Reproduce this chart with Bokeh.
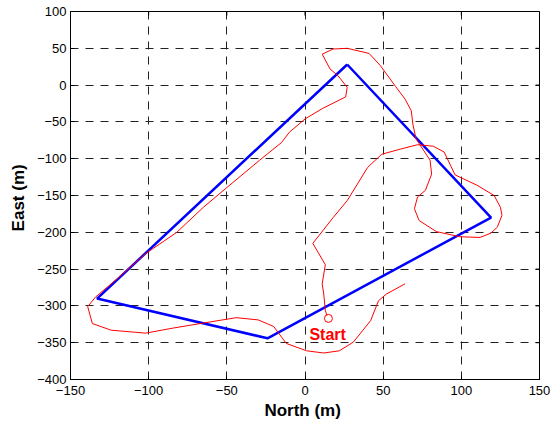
import math
from bokeh.plotting import figure
from bokeh.models import Range1d, FixedTicker, Label
from bokeh.embed import file_html
from bokeh.resources import INLINE

# Planned route (blue polygon)
poly_north = [27, 119, -24, -133, 27]
poly_east = [28, -180, -344, -290, 28]

# Actual trajectory (red)
path_north = [14, 13, 12, 11, 13, 5, 18, 27, 40, 49, 61, 72, 82, 89, 96, 110, 121,
              125, 126, 123, 119, 112, 99, 84, 73, 70, 72, 77, 81, 80, 71, 69, 68,
              64, 58, 48, 41, 27, 18, 11, 16, 21, 27, 26, 11, 0, -10, -15, -29, -51,
              -65, -82, -102, -119, -134, -139, -136, -124, -102, -84, -67, -44, -30,
              -20, -12, 1, 12, 22, 31, 42, 47, 52, 64]
path_east = [-313, -306, -284, -270, -244, -215, -180, -157, -112, -94, -87, -81, -83,
             -91, -122, -136, -150, -166, -177, -193, -201, -207, -206, -199, -184,
             -168, -152, -143, -121, -102, -73, -53, -35, -19, -2, 27, 43, 50, 49, 42,
             22, 13, -3, -16, -32, -46, -64, -78, -102, -141, -166, -200, -229, -261,
             -288, -301, -324, -333, -337, -330, -324, -316, -319, -328, -351, -361,
             -364, -361, -349, -320, -293, -284, -270]

start_north = [15]
start_east = [-317]
start_label = "Start"

x_ticks = [-150, -100, -50, 0, 50, 100, 150]
y_ticks = [100, 50, 0, -50, -100, -150, -200, -250, -300, -350, -400]
x_lim = (-150, 150)
y_lim = (-400, 100)

FONT = "Liberation Sans"

p = figure(width=556, height=425, output_backend="svg", toolbar_location=None,
           x_range=Range1d(*x_lim), y_range=Range1d(*y_lim),
           min_border_left=70, min_border_right=17, min_border_top=11,
           min_border_bottom=46)
p.background_fill_color = "white"
p.border_fill_color = "white"
p.outline_line_color = "black"
p.outline_line_width = 1

for ax, ticks in ((p.xaxis[0], x_ticks), (p.yaxis[0], y_ticks)):
    ax.ticker = FixedTicker(ticks=ticks)
    ax.major_tick_in = 4
    ax.major_tick_out = 0
    ax.minor_tick_line_color = None
    ax.axis_line_color = "black"
    ax.major_tick_line_color = "black"
    ax.major_label_text_font = FONT
    ax.major_label_text_font_size = "13px"
    ax.major_label_text_color = "black"
    ax.axis_label_text_font = FONT
    ax.axis_label_text_font_size = "17px"
    ax.axis_label_text_font_style = "bold"
    ax.axis_label_text_color = "black"

p.xaxis.axis_label = "North  (m)"
p.yaxis.axis_label = "East  (m)"
p.xaxis.major_label_standoff = 6
p.xaxis.axis_label_standoff = 3
p.yaxis.major_label_standoff = 4
p.yaxis.axis_label_standoff = 6

for g in (p.xgrid[0], p.ygrid[0]):
    g.grid_line_color = "#222222"
    g.grid_line_dash = "8 7"
    g.grid_line_width = 1
p.xgrid.ticker = FixedTicker(ticks=x_ticks)
p.ygrid.ticker = FixedTicker(ticks=y_ticks)

# inward tick marks on the top and right frame edges (clipped to the frame)
p.scatter(x_ticks, [y_lim[1]] * len(x_ticks), marker="dash", size=8,
          angle=math.pi / 2, line_color="black", line_width=1)
p.scatter([x_lim[1]] * len(y_ticks), y_ticks, marker="dash", size=8,
          line_color="black", line_width=1)

p.line(poly_north, poly_east, line_color="#0000ff", line_width=2.5)
p.line(path_north, path_east, line_color="#ff0000", line_width=1)
p.scatter(start_north, start_east, size=8, marker="circle", fill_color=None,
          line_color="#ff0000", line_width=1)

p.add_layout(Label(x=14.5, y=-339, text=start_label, text_align="center",
                   text_baseline="middle", text_color="#ff0000",
                   text_font=FONT, text_font_size="16px", text_font_style="bold"))

open("out.html", "w").write(file_html(p, INLINE))
